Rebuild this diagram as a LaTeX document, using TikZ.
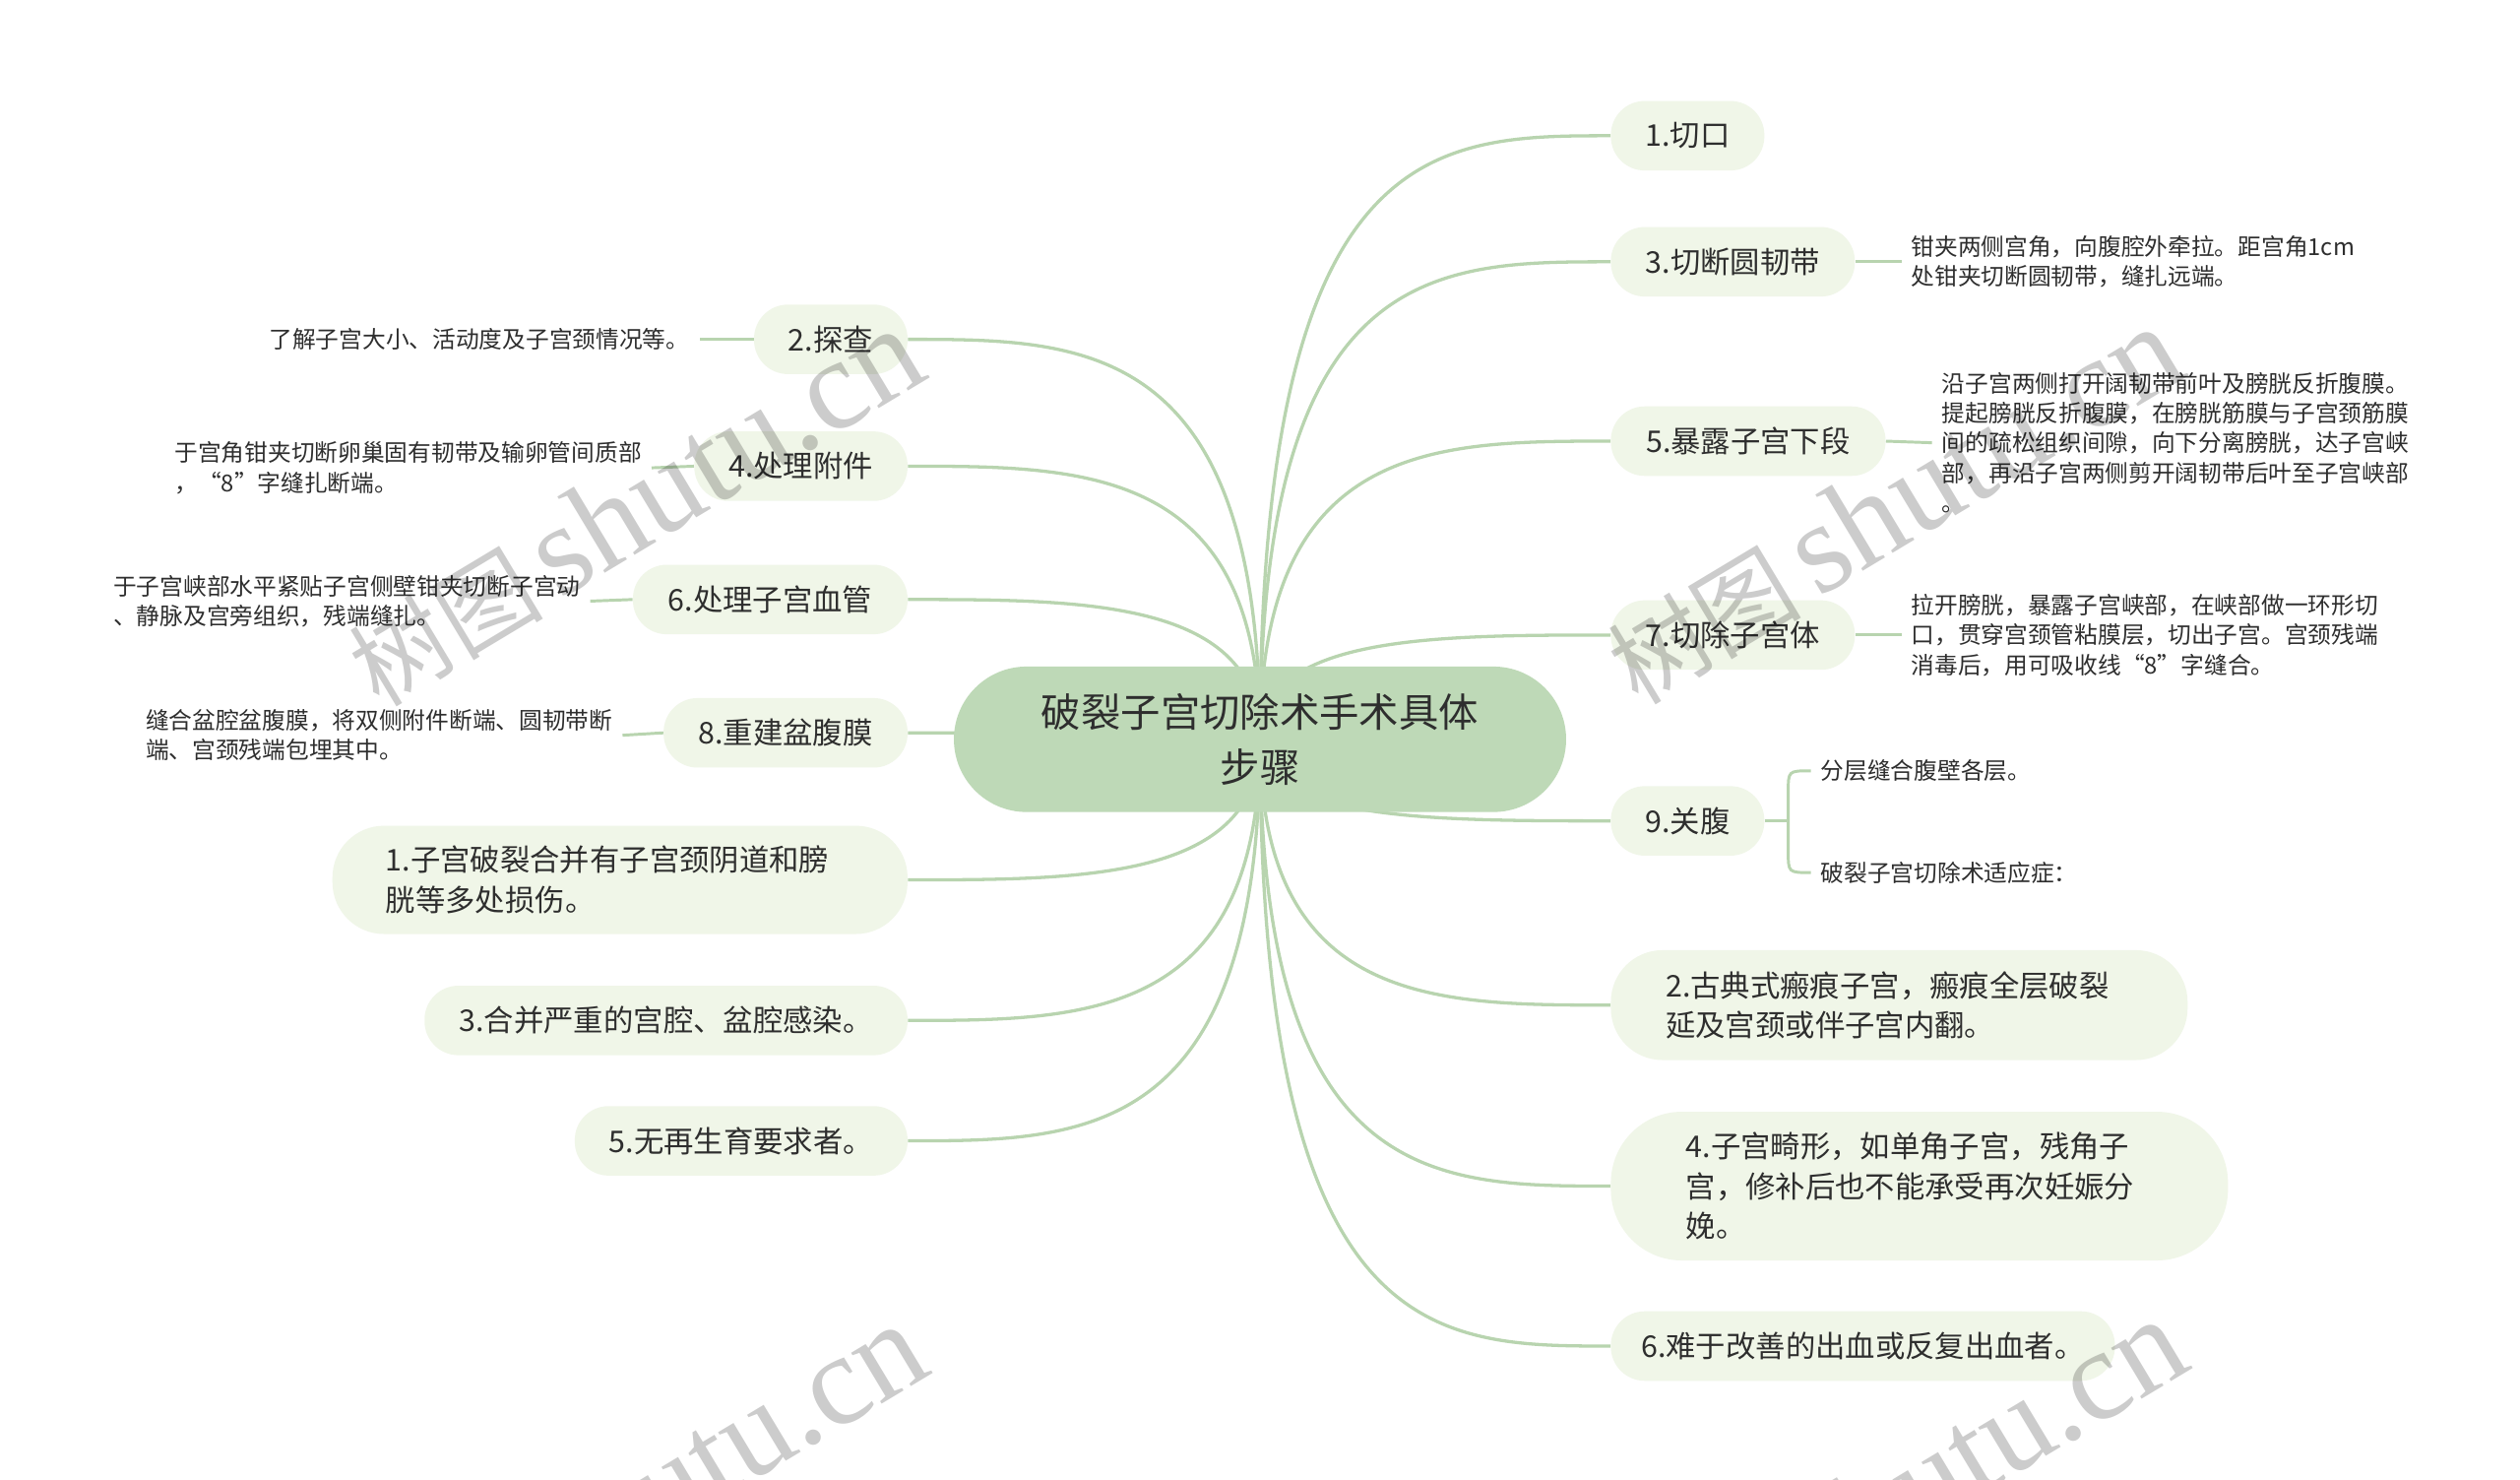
\documentclass[tikz,border=0pt]{standalone}
\usepackage{fontspec}
\setmainfont{Noto Sans CJK SC}
\newfontfamily\wmlatin{Liberation Serif}
\usetikzlibrary{calc,backgrounds}
\definecolor{txt}{HTML}{2E2E2E}
\definecolor{cbr}{HTML}{F0F6E8}
\definecolor{cmain}{HTML}{BED9B7}
\definecolor{clink}{HTML}{B8D4AF}
\tikzset{
  mainnode/.style={fill=cmain, text=txt, rounded corners=45pt, minimum width=379pt, minimum height=90pt,
    font=\fontsize{24.6}{34}\selectfont, align=center, inner sep=0pt},
  br/.style={fill=cbr, text=txt, font=\fontsize{18.5}{24.7}\selectfont, minimum height=43pt,
    rounded corners=21pt, inner sep=0pt, align=left},
  lf/.style={text=txt, font=\fontsize{14.45}{18.5}\selectfont, inner xsep=6pt, inner ysep=2pt, align=left},
  link/.style={draw=clink, line width=2pt},
  llink/.style={draw=clink, line width=1.8pt},
  wm/.style={text=black, opacity=0.2, inner sep=0pt},
}
\newcommand\mlink[1]{\draw[link] (c.center) .. controls (c.center |- #1) and ($(c.center |- #1)!0.5!(#1)$) .. (#1);}
\begin{document}
\begin{tikzpicture}[x=1pt,y=-1pt]
\useasboundingbox (0,0) rectangle (1560,915.3);

% central node
\node[mainnode] (c) at (780,457.5) {破裂子宫切除术手术具体\\步骤};

% right branches
\node[br, anchor=west, minimum width=95pt] (r1) at (997,84) {1.切口};
\node[br, anchor=west, minimum width=151pt] (r3) at (997,162) {3.切断圆韧带};
\node[br, anchor=west, minimum width=170pt] (r5) at (997,273) {5.暴露子宫下段};
\node[br, anchor=west, minimum width=151pt] (r7) at (997,393) {7.切除子宫体};
\node[br, anchor=west, minimum width=95pt] (r9) at (997,508) {9.关腹};
\node[br, anchor=west, minimum width=357pt, minimum height=68pt, rounded corners=32pt, text width=289pt] (q2) at (997,622) {2.古典式瘢痕子宫，瘢痕全层破裂\\延及宫颈或伴子宫内翻。};
\node[br, anchor=west, minimum width=382pt, minimum height=92pt, rounded corners=44pt, text width=289pt] (q4) at (997,734) {4.子宫畸形，如单角子宫，残角子\\宫，修补后也不能承受再次妊娠分\\娩。};
\node[br, anchor=west, minimum width=312pt] (q6) at (997,833) {6.难于改善的出血或反复出血者。};

% left branches
\node[br, anchor=east, minimum width=95pt] (l2) at (562,210) {2.探查};
\node[br, anchor=east, minimum width=132pt] (l4) at (562,288.5) {4.处理附件};
\node[br, anchor=east, minimum width=170pt] (l6) at (562,371) {6.处理子宫血管};
\node[br, anchor=east, minimum width=151pt] (l8) at (562,453.5) {8.重建盆腹膜};
\node[br, anchor=east, minimum width=356pt, minimum height=67pt, rounded corners=32pt, text width=290pt] (p1) at (562,544.5) {1.子宫破裂合并有子宫颈阴道和膀\\胱等多处损伤。};
\node[br, anchor=east, minimum width=299pt] (p3) at (562,631.5) {3.合并严重的宫腔、盆腔感染。};
\node[br, anchor=east, minimum width=206pt] (p5) at (562,706) {5.无再生育要求者。};

% right leaves
\node[lf, anchor=west] (a3) at (1177,162) {钳夹两侧宫角，向腹腔外牵拉。距宫角1cm\\处钳夹切断圆韧带，缝扎远端。};
\node[lf, anchor=west] (a5) at (1196,274) {沿子宫两侧打开阔韧带前叶及膀胱反折腹膜。\\提起膀胱反折腹膜，在膀胱筋膜与子宫颈筋膜\\间的疏松组织间隙，向下分离膀胱，达子宫峡\\部，再沿子宫两侧剪开阔韧带后叶至子宫峡部\\。};
\node[lf, anchor=west] (a7) at (1177,393) {拉开膀胱，暴露子宫峡部，在峡部做一环形切\\口，贯穿宫颈管粘膜层，切出子宫。宫颈残端\\消毒后，用可吸收线“8”字缝合。};
\node[lf, anchor=west] (k1) at (1121,477) {分层缝合腹壁各层。};
\node[lf, anchor=west] (k2) at (1121,540) {破裂子宫切除术适应症：};
\coordinate (br9) at (1107,508);

% left leaves
\node[lf, anchor=east] (b2) at (433,210) {了解子宫大小、活动度及子宫颈情况等。};
\node[lf, anchor=west] (b4) at (102,289.5) {于宫角钳夹切断卵巢固有韧带及输卵管间质部\\，“8”字缝扎断端。};
\node[lf, anchor=west] (b6) at (64,372) {于子宫峡部水平紧贴子宫侧壁钳夹切断子宫动\\、静脉及宫旁组织，残端缝扎。};
\node[lf, anchor=west] (b8) at (84,455) {缝合盆腔盆腹膜，将双侧附件断端、圆韧带断\\端、宫颈残端包埋其中。};

\begin{pgfonlayer}{background}
  \fill[white] (0,0) rectangle (1560,915.3);
  \mlink{r1.west}\mlink{r3.west}\mlink{r5.west}\mlink{r7.west}\mlink{r9.west}
  \mlink{q2.west}\mlink{q4.west}\mlink{q6.west}
  \mlink{l2.east}\mlink{l4.east}\mlink{l6.east}\mlink{l8.east}
  \mlink{p1.east}\mlink{p3.east}\mlink{p5.east}
  \draw[llink] (r3.east) -- (a3.west);
  \draw[llink] (r5.east) -- (a5.west);
  \draw[llink] (r7.east) -- (a7.west);
  \draw[llink] (r9.east) -- (br9);
  \draw[llink] (k1.west) .. controls (1107,477) .. (1107,490) -- (1107,527) .. controls (1107,540) .. (k2.west);
  \draw[llink] (l2.west) -- (b2.east);
  \draw[llink] (l4.west) -- (b4.east);
  \draw[llink] (l6.west) -- (b6.east);
  \draw[llink] (l8.west) -- (b8.east);
\end{pgfonlayer}

% watermarks
\begin{scope}
  \clip (0,0) rectangle (1560,915.3);
  \node[wm, rotate=31] (w1) at (393,314) {\fontsize{60}{60}\selectfont 树图\,{\wmlatin\fontsize{80}{80}\selectfont shutu.cn}};
  \node[wm, rotate=31] (w2) at (1172,313) {\fontsize{60}{60}\selectfont 树图\,{\wmlatin\fontsize{80}{80}\selectfont shutu.cn}};
  \node[wm, rotate=31] (w3) at (395,930) {\fontsize{60}{60}\selectfont 树图\,{\wmlatin\fontsize{80}{80}\selectfont shutu.cn}};
  \node[wm, rotate=31] (w4) at (1175,927) {\fontsize{60}{60}\selectfont 树图\,{\wmlatin\fontsize{80}{80}\selectfont shutu.cn}};
\end{scope}
\end{tikzpicture}
\end{document}
